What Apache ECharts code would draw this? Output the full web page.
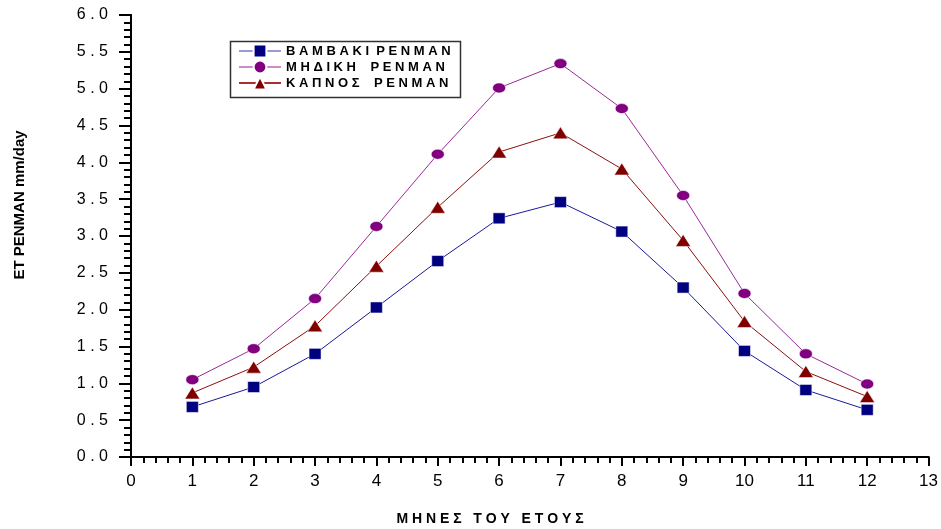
<!DOCTYPE html>
<html>
<head>
<meta charset="utf-8">
<script src="https://cdn.jsdelivr.net/npm/echarts@6/dist/echarts.min.js"></script>
<style>
  html, body { margin: 0; padding: 0; background: #fff; }
  #chart { width: 941px; height: 529px; }
</style>
</head>
<body>
<div id="chart"></div>
<script>
// Monthly reference evapotranspiration (Penman), mm/day
var months = [1, 2, 3, 4, 5, 6, 7, 8, 9, 10, 11, 12];
var bambaki = [0.68, 0.95, 1.40, 2.03, 2.66, 3.24, 3.46, 3.06, 2.30, 1.44, 0.91, 0.64];
var mhdikh  = [1.05, 1.47, 2.15, 3.13, 4.11, 5.01, 5.34, 4.73, 3.55, 2.22, 1.40, 0.99];
var kapnos  = [0.87, 1.22, 1.78, 2.59, 3.39, 4.14, 4.40, 3.91, 2.94, 1.84, 1.16, 0.82];

var seriesNames = [
  'Β Α Μ Β Α Κ Ι  P E N M A N',
  'Μ Η Δ Ι Κ Η    P E N M A N',
  'Κ Α Π Ν Ο Σ    P E N M A N'
];
var xTitle = 'Μ Η Ν Ε Σ   Τ Ο Υ   Ε Τ Ο Υ Σ';
var yTitle = 'ET PENMAN mm/day';

var SANS = 'Liberation Sans';

function pairs(vals) {
  return months.map(function (m, i) { return [m, vals[i]]; });
}

var chart = echarts.init(document.getElementById('chart'), null, { renderer: 'canvas' });

var axisLine = { show: true, lineStyle: { color: '#000', width: 2 } };

chart.setOption({
  animation: false,
  backgroundColor: '#fff',
  grid: { left: 131, right: 11, top: 15, bottom: 72, containLabel: false },
  xAxis: [
    {
      type: 'value', position: 'bottom', min: 0, max: 13, interval: 1,
      axisLine: axisLine,
      axisTick: { show: true, inside: false, length: 9, lineStyle: { color: '#000', width: 2 } },
      minorTick: { show: true, splitNumber: 5, length: 6, lineStyle: { color: '#000', width: 2 } },
      axisLabel: { margin: 16, fontFamily: SANS, fontSize: 17, color: '#000' },
      splitLine: { show: false }
    },
    {
      type: 'value', position: 'top', min: 0, max: 13, interval: 1,
      axisLine: axisLine,
      axisTick: { show: true, inside: true, length: 3, lineStyle: { color: '#000', width: 1.5 } },
      minorTick: { show: true, splitNumber: 5, length: 3, lineStyle: { color: '#000', width: 1.5 } },
      axisLabel: { show: false },
      splitLine: { show: false }
    }
  ],
  yAxis: [
    {
      type: 'value', position: 'left', min: 0, max: 6, interval: 0.5,
      axisLine: axisLine,
      axisTick: { show: true, inside: false, length: 12, lineStyle: { color: '#000', width: 2 } },
      minorTick: { show: true, splitNumber: 5, length: 7, lineStyle: { color: '#000', width: 2 } },
      axisLabel: {
        margin: 23, fontFamily: SANS, fontSize: 16, color: '#000',
        formatter: function (v) { return v.toFixed(1).split('').join(' '); }
      },
      splitLine: { show: false }
    },
    {
      type: 'value', position: 'right', min: 0, max: 6, interval: 0.5,
      axisLine: axisLine,
      axisTick: { show: true, inside: true, length: 4, lineStyle: { color: '#000', width: 1.5 } },
      minorTick: { show: true, splitNumber: 5, length: 3, lineStyle: { color: '#000', width: 1.5 } },
      axisLabel: { show: false },
      splitLine: { show: false }
    }
  ],
  legend: {
    orient: 'vertical',
    left: 238, top: 43,
    padding: 0,
    itemGap: 0,
    itemWidth: 42, itemHeight: 16,
    textStyle: { fontFamily: SANS, fontWeight: 'bold', fontSize: 13, color: '#000', lineHeight: 16 },
    data: [
      { name: seriesNames[0], lineStyle: { color: '#9a9ad6' } },
      { name: seriesNames[1], lineStyle: { color: '#d08ad0' } },
      { name: seriesNames[2], lineStyle: { color: '#a83030' } }
    ]
  },
  graphic: [
    {
      type: 'rect', left: 228, top: 39, silent: true,
      shape: { width: 230, height: 56 },
      style: { fill: 'none', stroke: '#333', lineWidth: 1.5 }
    },
    {
      type: 'text', x: 20, y: 205, rotation: Math.PI / 2, silent: true,
      style: { text: yTitle, fontFamily: SANS, fontWeight: 'bold', fontSize: 15, fill: '#000', align: 'center', verticalAlign: 'middle' }
    },
    {
      type: 'text', x: 490, y: 519, silent: true,
      style: { text: xTitle, fontFamily: SANS, fontWeight: 'bold', fontSize: 14, fill: '#000', align: 'center', verticalAlign: 'middle' }
    }
  ],
  series: [
    {
      name: seriesNames[0], type: 'line', data: pairs(bambaki),
      symbol: 'rect', symbolSize: [12, 11],
      lineStyle: { color: '#1a1a9a', width: 1 },
      itemStyle: { color: '#000080', borderColor: '#fff', borderWidth: 0.5 },
      z: 3
    },
    {
      name: seriesNames[1], type: 'line', data: pairs(mhdikh),
      symbol: 'circle', symbolSize: [13, 10],
      lineStyle: { color: '#9a2a9a', width: 1 },
      itemStyle: { color: '#800080', borderColor: '#fff', borderWidth: 0.5 },
      z: 3
    },
    {
      name: seriesNames[2], type: 'line', data: pairs(kapnos),
      symbol: 'triangle', symbolSize: [15, 12],
      lineStyle: { color: '#8b1010', width: 1 },
      itemStyle: { color: '#800000', borderColor: '#fff', borderWidth: 0.5 },
      z: 3
    }
  ]
});
</script>
</body>
</html>
